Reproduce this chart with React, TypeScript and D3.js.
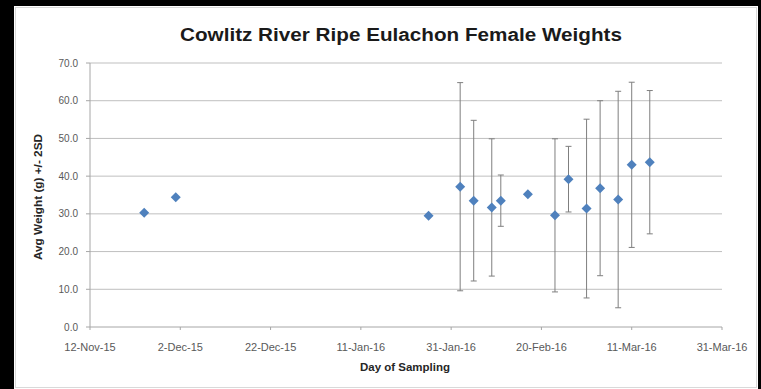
import React from "react";
import * as d3 from "d3";

const sampleDates = [
  "2015-11-24", "2015-12-01", "2016-01-26", "2016-02-02", "2016-02-05",
  "2016-02-09", "2016-02-11", "2016-02-17", "2016-02-23", "2016-02-26",
  "2016-03-01", "2016-03-04", "2016-03-08", "2016-03-11", "2016-03-15",
];
const avgWeights = [30.3, 34.4, 29.5, 37.2, 33.5, 31.7, 33.5, 35.2, 29.6, 39.2, 31.4, 36.8, 33.8, 43.0, 43.7];
const twoSD = [0, 0, 0, 27.6, 21.3, 18.2, 6.8, 0, 20.3, 8.7, 23.7, 23.2, 28.7, 21.9, 19.0];
const xTickDates = ["2015-11-12", "2015-12-02", "2015-12-22", "2016-01-11", "2016-01-31", "2016-02-20", "2016-03-11", "2016-03-31"];
const yTicks = [0, 10, 20, 30, 40, 50, 60, 70];

const W = 761, H = 389;
const left = 90, right = 722, top = 63, bottom = 327;

export default function App() {
  const parse = d3.utcParse("%Y-%m-%d");
  const x = d3.scaleUtc().domain([parse("2015-11-12")!, parse("2016-03-31")!]).range([left, right]);
  const y = d3.scaleLinear().domain([0, 70]).range([bottom, top]);
  const fmt = d3.utcFormat("%-d-%b-%y");
  const data = sampleDates.map((d, i) => ({ date: parse(d)!, v: avgWeights[i], e: twoSD[i] }));
  const font = "'Liberation Sans', Arial, sans-serif";
  const r = 5;
  const diamond = `M0,${-r}L${r},0L0,${r}L${-r},0Z`;
  return (
    <svg width={W} height={H} style={{ position: "absolute", left: 0, top: 0 }} fontFamily={font}>
      <rect x={0} y={0} width={W} height={H} fill="#000" />
      <rect x={14} y={6} width={744} height={H - 6} fill="#fff" />
      <rect x={15.5} y={7.5} width={741} height={H - 9} fill="none" stroke="#d9d9d9" />
      <text x={401} y={41} textAnchor="middle" fontSize={18} fontWeight="bold" fill="#1a1a1a" textLength={442} lengthAdjust="spacingAndGlyphs">
        Cowlitz River Ripe Eulachon Female Weights
      </text>
      {yTicks.map((t) => (
        <g key={t}>
          {t > 0 && <line x1={left} x2={right} y1={y(t)} y2={y(t)} stroke="#bfbfbf" strokeWidth={1} />}
          <line x1={left - 4} x2={left} y1={y(t)} y2={y(t)} stroke="#a6a6a6" />
          <text x={78} y={y(t) + 3.5} textAnchor="end" fontSize={10} fill="#595959">{t.toFixed(1)}</text>
        </g>
      ))}
      <line x1={left} x2={left} y1={top} y2={bottom} stroke="#a6a6a6" />
      <line x1={left} x2={right} y1={bottom} y2={bottom} stroke="#a6a6a6" />
      {xTickDates.map((d) => {
        const dt = parse(d)!;
        return (
          <g key={d}>
            <line x1={x(dt)} x2={x(dt)} y1={bottom} y2={bottom + 3} stroke="#a6a6a6" />
            <text x={x(dt)} y={351} textAnchor="middle" fontSize={11} fill="#595959">{fmt(dt)}</text>
          </g>
        );
      })}
      <text x={405} y={371} textAnchor="middle" fontSize={10.5} fontWeight="bold" fill="#262626" textLength={90} lengthAdjust="spacingAndGlyphs">Day of Sampling</text>
      <text transform={`translate(42,${197}) rotate(-90)`} textAnchor="middle" fontSize={10} fontWeight="bold" fill="#262626" textLength={126} lengthAdjust="spacingAndGlyphs">
        Avg Weight (g) +/- 2SD
      </text>
      {data.filter((d) => d.e > 0).map((d, i) => {
        const cx = x(d.date);
        return (
          <g key={"e" + i} stroke="#7f7f7f" strokeWidth={1}>
            <line x1={cx} x2={cx} y1={y(d.v + d.e)} y2={y(d.v - d.e)} />
            <line x1={cx - 3} x2={cx + 3} y1={y(d.v + d.e)} y2={y(d.v + d.e)} />
            <line x1={cx - 3} x2={cx + 3} y1={y(d.v - d.e)} y2={y(d.v - d.e)} />
          </g>
        );
      })}
      {data.map((d, i) => (
        <path key={"p" + i} d={diamond} transform={`translate(${x(d.date)},${y(d.v)})`} fill="#4f81bd" />
      ))}
    </svg>
  );
}
